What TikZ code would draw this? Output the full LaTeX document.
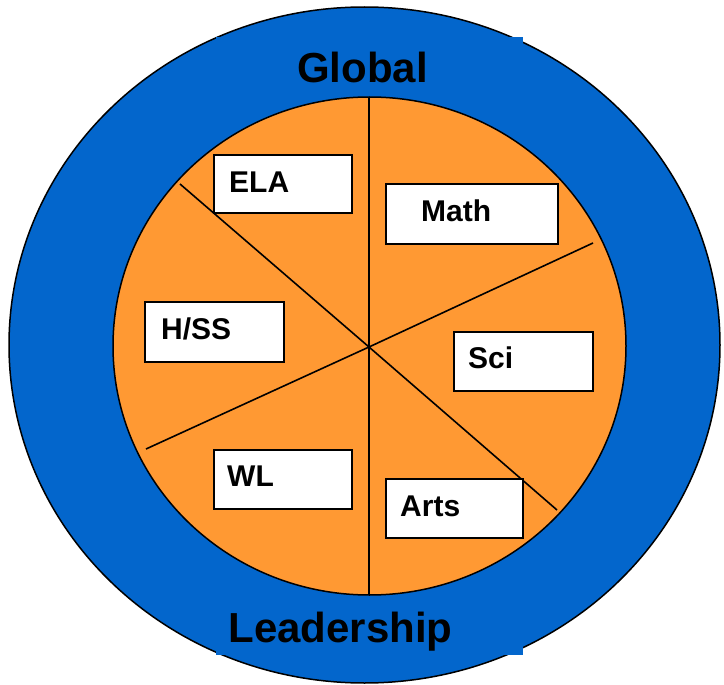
\documentclass[tikz,border=0pt]{standalone}
\usepackage{fontspec}
\setmainfont{Liberation Sans}
\usetikzlibrary{shapes.geometric}

\definecolor{ringblue}{RGB}{3,102,204}
\definecolor{coreorange}{RGB}{255,153,51}

\tikzset{
  ring/.style={ellipse, draw=black, line width=1.5pt, fill=ringblue, inner sep=0pt},
  core/.style={ellipse, draw=black, line width=1.5pt, fill=coreorange, inner sep=0pt},
  spoke/.style={draw=black, line width=1.6pt},
  subjectbox/.style={rectangle, draw=black, line width=1.8pt, fill=white, inner sep=0pt},
  subjecttext/.style={anchor=base west, inner sep=0pt, font=\bfseries\fontsize{30}{30}\selectfont},
  ringtext/.style={anchor=base, inner sep=0pt, font=\bfseries\fontsize{42}{42}\selectfont},
  cover/.style={fill=ringblue, draw=none}
}

\begin{document}
\begin{tikzpicture}[x=1pt,y=-1pt]
\useasboundingbox (0,0) rectangle (724,685);

% outer ring and inner disc
\node[ring, minimum width=711pt, minimum height=676pt] (outer) at (364.5,345) {};
\fill[cover] (216,37) rectangle (523,95);
\fill[cover] (216,600) rectangle (523,655);
\node[core, minimum width=513pt, minimum height=498pt] (inner) at (369.5,346) {};

% spokes through the hub
\coordinate (hub) at (369,347);
\coordinate (vtop) at (369,97);
\coordinate (vbot) at (369,595);
\coordinate (dA) at (180,184);
\coordinate (dB) at (557,510);
\coordinate (eA) at (146,449);
\coordinate (eB) at (593,243);
\draw[spoke] (vtop) -- (hub) -- (vbot);
\draw[spoke] (dA) -- (hub) -- (dB);
\draw[spoke] (eA) -- (hub) -- (eB);

% subject boxes
\node[subjectbox, minimum width=138pt, minimum height=58pt] (ela)  at (283,184) {};
\node[subjectbox, minimum width=172pt, minimum height=60pt] (math) at (472,214) {};
\node[subjectbox, minimum width=139pt, minimum height=60pt] (hss)  at (214.5,332) {};
\node[subjectbox, minimum width=139pt, minimum height=59pt] (sci)  at (523.5,361.5) {};
\node[subjectbox, minimum width=138pt, minimum height=59pt] (wl)   at (283,479.5) {};
\node[subjectbox, minimum width=137pt, minimum height=59pt] (arts) at (454.5,508.5) {};

\node[subjecttext] (elat)  at (229,193) {ELA};
\node[subjecttext] (matht) at (421,222) {Math};
\node[subjecttext] (hsst)  at (161,339) {H/SS};
\node[subjecttext] (scit)  at (468,368.5) {Sci};
\node[subjecttext] (wlt)   at (227,486) {WL};
\node[subjecttext] (artst) at (400,516) {Arts};

% ring labels
\node[ringtext] (global) at (362.5,83) {Global};
\node[ringtext] (lead)   at (340.5,642.5) {Leadership};
\end{tikzpicture}
\end{document}
